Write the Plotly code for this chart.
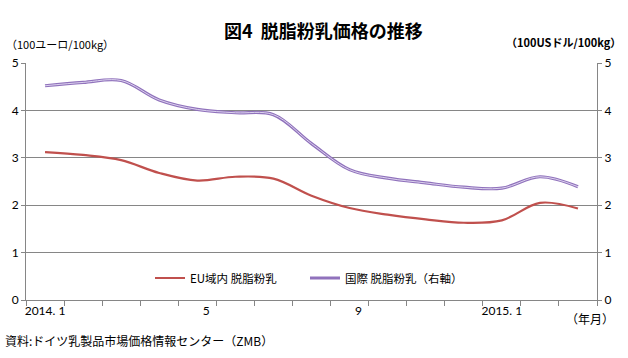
import plotly.graph_objects as go

months = ["2014.1", "2014.2", "2014.3", "2014.4", "2014.5", "2014.6", "2014.7", "2014.8",
          "2014.9", "2014.10", "2014.11", "2014.12", "2015.1", "2015.2", "2015.3"]
tick_text = ["2014. 1", "", "", "", "\u2003\u20035", "", "", "", "\u2003\u20039", "", "", "", "2015. 1", "", ""]
eu_smp = [3.12, 3.06, 2.95, 2.68, 2.52, 2.60, 2.56, 2.20, 1.94, 1.80, 1.70, 1.63, 1.68, 2.05, 1.93]
intl_smp = [4.52, 4.59, 4.63, 4.22, 4.02, 3.95, 3.91, 3.30, 2.75, 2.57, 2.47, 2.38, 2.36, 2.60, 2.39]

CJK = "Noto Sans CJK JP, sans-serif"
NUM = "Lato, Noto Sans CJK JP, sans-serif"

W, H = 628, 358
L, R, T, B = 26, 31, 63, 58
pw, ph = W - L - R, H - T - B


def px_x(x):
    return (x - L) / pw


def px_y(y):
    return (H - B - y) / ph


fig = go.Figure()
fig.add_trace(go.Scatter(x=months, y=eu_smp, name="EU域内 脱脂粉乳", mode="lines",
                         line=dict(color="#C0504D", width=2.2, shape="spline", smoothing=1.0),
                         yaxis="y"))
fig.add_trace(go.Scatter(x=months, y=intl_smp, name="国際 脱脂粉乳（右軸）", mode="lines",
                         line=dict(color="#9072BC", width=3.2, shape="spline", smoothing=1.0),
                         yaxis="y2"))
fig.add_trace(go.Scatter(x=months, y=intl_smp, showlegend=False, mode="lines", hoverinfo="skip",
                         line=dict(color="#DCD2EE", width=1, shape="spline", smoothing=1.0),
                         yaxis="y2"))


def ann(text, x, y, xanchor="center", size=11):
    return dict(text=text, x=px_x(x), y=px_y(y), xref="paper", yref="paper",
                xanchor=xanchor, yanchor="middle", showarrow=False,
                font=dict(family=CJK, size=size, color="#000000"))


fig.update_layout(
    width=W, height=H,
    margin=dict(l=L, r=R, t=T, b=B, autoexpand=False),
    paper_bgcolor="white", plot_bgcolor="white",
    font=dict(family=CJK, size=11, color="#000000"),
    showlegend=True,
    legend=dict(orientation="h", x=px_x(150), xanchor="left", y=px_y(278), yanchor="middle",
                font=dict(family=CJK, size=11.5), bgcolor="rgba(0,0,0,0)",
                entrywidth=110, entrywidthmode="pixels", tracegroupgap=0),
    xaxis=dict(type="category", categoryorder="array", categoryarray=months,
               tickmode="array", tickvals=months, ticktext=tick_text,
               tickson="boundaries", ticks="outside", ticklen=5, tickcolor="#868686",
               showline=True, linecolor="#868686", linewidth=1, showgrid=False,
               range=[-0.5, 14.5], tickfont=dict(family=NUM, size=12), tickangle=0,
               automargin=False),
    yaxis=dict(range=[0, 5], dtick=1, tick0=0, ticks="outside", ticklen=4, tickcolor="#868686",
               showline=True, linecolor="#868686", linewidth=1,
               showgrid=True, gridcolor="#868686", gridwidth=1, zeroline=False,
               tickfont=dict(family=NUM, size=12), automargin=False),
    yaxis2=dict(range=[0, 5], dtick=1, tick0=0, overlaying="y", side="right",
                ticks="outside", ticklen=4, tickcolor="#868686",
                showline=True, linecolor="#868686", linewidth=1,
                showgrid=False, zeroline=False, tickfont=dict(family=NUM, size=12),
                automargin=False),
    annotations=[
        ann("<b>図4  脱脂粉乳価格の推移</b>", 323, 30, size=18),
        ann("（100ユーロ/100kg）", 4, 44, xanchor="left", size=11),
        ann("<b>（100USドル/100kg）</b>", 623, 42, xanchor="right", size=11),
        ann("（年月）", 616, 318, xanchor="right", size=12),
        ann("資料:ドイツ乳製品市場価格情報センター（ZMB）", 3, 340, xanchor="left", size=12),
    ],
)

fig.write_html("out.html", config={"displayModeBar": False},
               post_script="document.body.style.margin='0';")
